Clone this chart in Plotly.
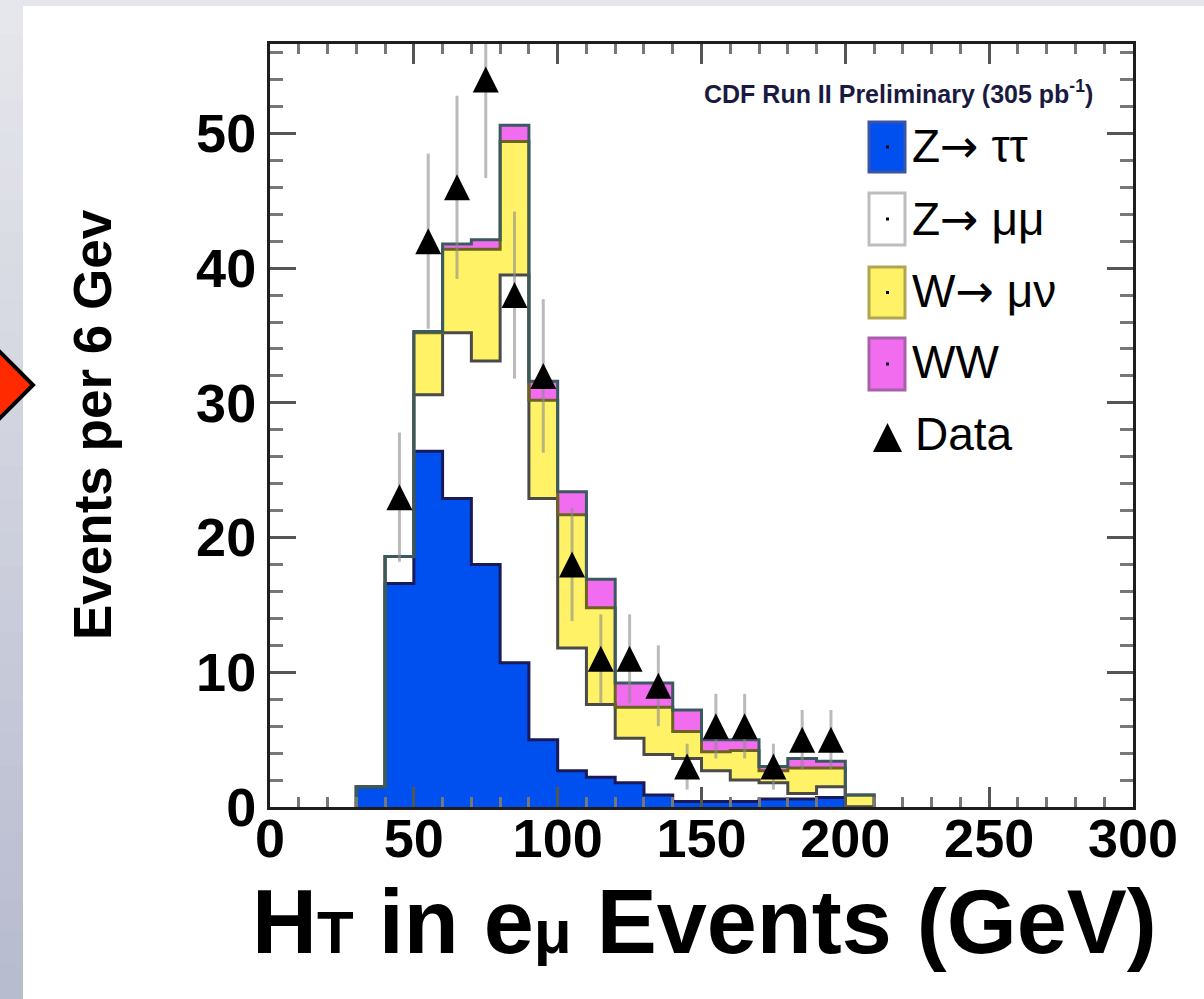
import numpy as np
import plotly.graph_objects as go

# ---------------- data ----------------
bin_low = [30, 40, 50, 60, 70, 80, 90, 100, 110, 120, 130, 140, 150, 160, 170, 180, 190, 200]
bin_width = 10
z_tautau = [1.5, 16.6, 26.4, 22.9, 18.0, 10.7, 5.0, 2.7, 2.2, 1.8, 0.9, 0.4, 0.4, 0.4, 0.6, 0.6, 0.7, 0.0]
z_mumu = [0.0, 2.0, 4.2, 12.3, 15.1, 28.8, 17.9, 9.1, 5.4, 3.3, 3.0, 3.2, 2.3, 1.6, 1.2, 0.4, 0.8, 0.0]
w_munu = [0.0, 0.0, 4.6, 6.2, 8.3, 9.9, 7.3, 9.9, 7.2, 2.3, 3.5, 2.0, 1.4, 2.2, 0.9, 1.9, 1.4, 0.9]
ww = [0.0, 0.0, 0.1, 0.4, 0.7, 1.2, 1.4, 1.7, 2.1, 1.8, 1.8, 1.6, 0.9, 0.8, 0.3, 0.7, 0.5, 0.0]
data_x = [45, 55, 65, 75, 85, 95, 105, 115, 125, 135, 145, 155, 165, 175, 185, 195]
data_y = [23, 42, 46, 54, 38, 32, 18, 11, 11, 9, 3, 6, 6, 3, 5, 5]
data_err = [4.8, 6.5, 6.8, 7.3, 6.2, 5.7, 4.2, 3.3, 3.3, 3.0, 1.7, 2.4, 2.4, 1.7, 2.2, 2.2]
x_tick_vals = [0, 50, 100, 150, 200, 250, 300]
y_tick_vals = [0, 10, 20, 30, 40, 50]
ARROW = "<span style='font-family:DejaVu Sans'>\u2192</span>"
legend_labels = ["Z" + ARROW + " \u03c4\u03c4", "Z" + ARROW + " \u03bc\u03bc",
                 "W" + ARROW + " \u03bc\u03bd", "WW"]
data_label = "Data"
x_title = "H<span style='font-size:60px'>T</span> in e<span style='font-size:62px'>\u03bc</span> Events (GeV)"
y_title = "Events per 6 Gev"
header = "CDF Run II Preliminary (305 pb<sup>-1</sup>)"

# ---------------- styles ----------------
FONT = "Liberation Sans, Arial, sans-serif"
fills = ["#0050ef", "#ffffff", "#fff266", "#f26cf0"]
edges_col = ["#1a1a5a", "#4a4a4a", "#6b6320", "#3a5a60"]
box_lines = ["#3a55a8", "#bdbdbd", "#b0a650", "#a860a8"]

W, H = 1204, 999
L, R, T, B = 270, 1133, 44, 807


def px(x):
    return (x - L) / (R - L)


def py(y):
    return (B - y) / (B - T)


centers = np.array(bin_low, dtype=float) + bin_width / 2
edges = np.append(np.array(bin_low, dtype=float), bin_low[-1] + bin_width)

fig = go.Figure()
series = [z_tautau, z_mumu, w_munu, ww]
for vals, fc, name in zip(series, fills, legend_labels):
    fig.add_bar(x=centers, y=vals, width=bin_width, name=name,
                marker=dict(color=fc, line=dict(width=0)), showlegend=False)

cum = np.zeros(len(bin_low))
for vals, lc in zip(series, edges_col):
    cum = cum + np.array(vals)
    xs = np.concatenate([[edges[0]], edges[:-1], [edges[-1], edges[-1]]])
    ys = np.concatenate([[0], cum, [cum[-1], 0]])
    fig.add_scatter(x=xs, y=ys, mode="lines", line=dict(shape="hv", color=lc, width=3),
                    hoverinfo="skip", showlegend=False)

fig.add_scatter(x=data_x, y=data_y, mode="markers", name=data_label, showlegend=False,
                marker=dict(symbol="arrow-down", angle=180, size=26, color="black", standoff=13,
                            line=dict(width=0)),
                error_y=dict(type="data", array=data_err, color="rgba(140,140,140,0.6)",
                             thickness=3, width=0))

axis_common = dict(showline=True, linecolor="#1e1e1e", linewidth=3, mirror="allticks",
                   ticks="inside", tickcolor="#555", tickwidth=3, showgrid=False, zeroline=False,
                   tickfont=dict(family=FONT, size=54, color="black", weight="bold"))
fig.update_xaxes(range=[0, 300], tickvals=x_tick_vals, ticklen=20, ticklabelstandoff=-18,
                 minor=dict(dtick=10, ticks="inside", ticklen=10, tickwidth=3, tickcolor="#777"),
                 **axis_common)
fig.update_yaxes(range=[0, 56.64], tickvals=y_tick_vals, ticklen=26,
                 minor=dict(dtick=2, ticks="inside", ticklen=13, tickwidth=3, tickcolor="#777"),
                 **axis_common)

shapes = []
# page decoration: top band and left gradient band
shapes.append(dict(type="rect", xref="paper", yref="paper", x0=px(0), x1=px(W), y0=py(0), y1=py(6),
                   fillcolor="#e5e6eb", line=dict(width=0), layer="below"))
nb = 30
c0 = np.array([0xe6, 0xe7, 0xec])
c1 = np.array([0xb8, 0xbc, 0xcf])
for i in range(nb):
    t = i / (nb - 1)
    c = (c0 * (1 - t) + c1 * t).astype(int)
    shapes.append(dict(type="rect", xref="paper", yref="paper", x0=px(0), x1=px(23),
                       y0=py(i * H / nb), y1=py((i + 1) * H / nb + 1),
                       fillcolor="rgb(%d,%d,%d)" % tuple(c), line=dict(width=0), layer="below"))
# red arrow
shapes.append(dict(type="path", xref="paper", yref="paper",
                   path="M %f,%f L %f,%f L %f,%f Z" % (px(-40), py(312), px(33), py(385), px(-40), py(458)),
                   fillcolor="#ff2a00", line=dict(color="black", width=4), layer="above"))
# legend boxes
box_y = [(122, 172), (193, 245), (267, 318), (338, 390)]
for (y0, y1), fc, lc in zip(box_y, fills, box_lines):
    shapes.append(dict(type="rect", xref="paper", yref="paper", x0=px(869), x1=px(905),
                       y0=py(y1), y1=py(y0), fillcolor=fc, line=dict(color=lc, width=3), layer="above"))
    cy = (y0 + y1) / 2
    shapes.append(dict(type="rect", xref="paper", yref="paper", x0=px(886), x1=px(889),
                       y0=py(cy + 1.5), y1=py(cy - 1.5), fillcolor="black", line=dict(width=0), layer="above"))
# legend data triangle
shapes.append(dict(type="path", xref="paper", yref="paper",
                   path="M %f,%f L %f,%f L %f,%f Z" % (px(873), py(452), px(887.5), py(423), px(902), py(452)),
                   fillcolor="black", line=dict(width=0), layer="above"))

annotations = []
legend_cy = [146, 219, 291, 362]
for lab, cy in zip(legend_labels, legend_cy):
    annotations.append(dict(text=lab, xref="paper", yref="paper", x=px(910), y=py(cy),
                            xanchor="left", yanchor="middle", showarrow=False,
                            font=dict(family=FONT, size=46, color="black")))
annotations.append(dict(text=data_label, xref="paper", yref="paper", x=px(913), y=py(434),
                        xanchor="left", yanchor="middle", showarrow=False,
                        font=dict(family=FONT, size=46, color="black")))
annotations.append(dict(text=header, xref="paper", yref="paper", x=px(702), y=py(92),
                        xanchor="left", yanchor="middle", showarrow=False,
                        font=dict(family=FONT, size=25, color="#1a1a40", weight="bold")))
annotations.append(dict(text=x_title, xref="paper", yref="paper", x=px(250), y=py(922),
                        xanchor="left", yanchor="middle", showarrow=False,
                        font=dict(family=FONT, size=90, color="black", weight="bold")))
annotations.append(dict(text=y_title, xref="paper", yref="paper", x=px(92), y=py(425),
                        xanchor="center", yanchor="middle", textangle=-90, showarrow=False,
                        font=dict(family=FONT, size=53, color="black", weight="bold")))

fig.update_layout(width=W, height=H, autosize=False,
                  margin=dict(l=L, r=W - R, t=T, b=H - B, pad=0),
                  paper_bgcolor="white", plot_bgcolor="white",
                  barmode="stack", bargap=0, showlegend=False,
                  shapes=shapes, annotations=annotations,
                  font=dict(family=FONT))

fig.write_html("out.html")
